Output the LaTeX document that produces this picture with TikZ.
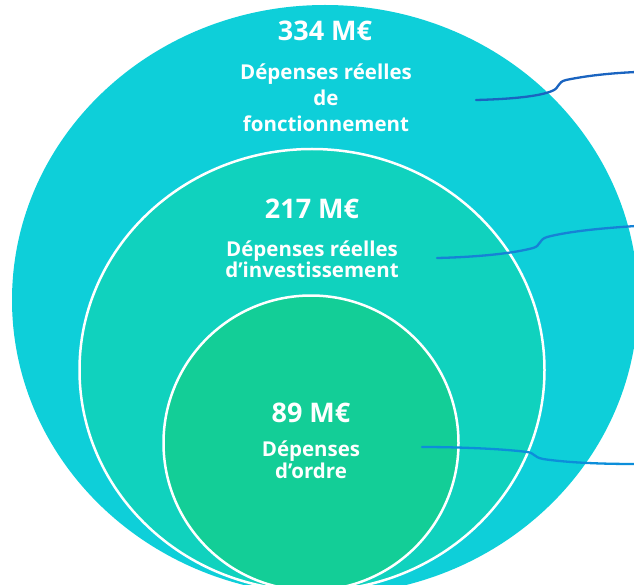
\documentclass[tikz,border=0pt]{standalone}
\usepackage{fontspec}
\setmainfont{Open Sans}
\usetikzlibrary{shapes.geometric}
\definecolor{outerc}{RGB}{14,207,217}
\definecolor{midc}{RGB}{16,210,190}
\definecolor{innerc}{RGB}{19,206,151}
\definecolor{lineA}{RGB}{26,100,192}
\definecolor{lineB}{RGB}{22,130,214}
\definecolor{lineC}{RGB}{12,142,218}
\newcommand\mytightlines{\lineskiplimit=-20pt\relax}
\begin{document}
\begin{tikzpicture}[x=1pt,y=-1pt,
 disc/.style={ellipse, inner sep=0pt, draw=white, line width=2.5pt},
 amount/.style={text=white, font=\bfseries\fontsize{27}{30}\selectfont, inner sep=0pt, anchor=base},
 desc/.style={text=white, font=\bfseries\fontsize{20.5}{26}\selectfont\mytightlines, align=center, inner sep=0pt, anchor=north},
 tight/.style={font=\bfseries\fontsize{20.5}{20.5}\selectfont\mytightlines},
 connector/.style={line width=2.3pt, line cap=round}]
\useasboundingbox (0,0) rectangle (634,585);
\begin{scope}
\clip (0,0) rectangle (634,585);
\node[disc, draw=none, fill=outerc, minimum width=626pt, minimum height=590pt] (outer) at (325,300) {};
\node[disc, fill=midc, minimum width=465pt, minimum height=442pt] (mid) at (312,370) {};
\node[disc, fill=innerc, minimum width=295pt, minimum height=295pt] (inner) at (311,443) {};

\node[amount] (a1) at (325,41) {334 M€};
\node[desc] (d1) at (326,64) {Dépenses réelles\\de\\fonctionnement};
\node[amount] (a2) at (312,219) {217 M€};
\node[desc, tight] (d2) at (312,241) {Dépenses réelles\\d’investissement};
\node[amount] (a3) at (311,422) {89 M€};
\node[desc, font=\bfseries\fontsize{20.5}{21.5}\selectfont\mytightlines] (d3) at (311,441) {Dépenses\\d’ordre};

\coordinate (s1) at (476,100); \coordinate (e1) at (636,72);
\coordinate (s2) at (437,258); \coordinate (e2) at (636,226);
\coordinate (s3) at (422,447); \coordinate (e3) at (636,464);
\draw[connector, lineA] (s1) .. controls (515,99) and (540,96) .. (552,91) .. controls (560,88) and (557,82) .. (566,80) .. controls (590,75) and (615,73) .. (e1);
\draw[connector, lineB] (s2) .. controls (480,257) and (515,253) .. (533,248) .. controls (541,246) and (538,240) .. (547,237) .. controls (570,231) and (605,228) .. (e2);
\draw[connector, lineC] (s3) .. controls (460,447) and (505,449) .. (527,452) .. controls (535,453) and (533,457) .. (543,459) .. controls (570,463) and (605,464) .. (e3);
\end{scope}
\end{tikzpicture}
\end{document}
